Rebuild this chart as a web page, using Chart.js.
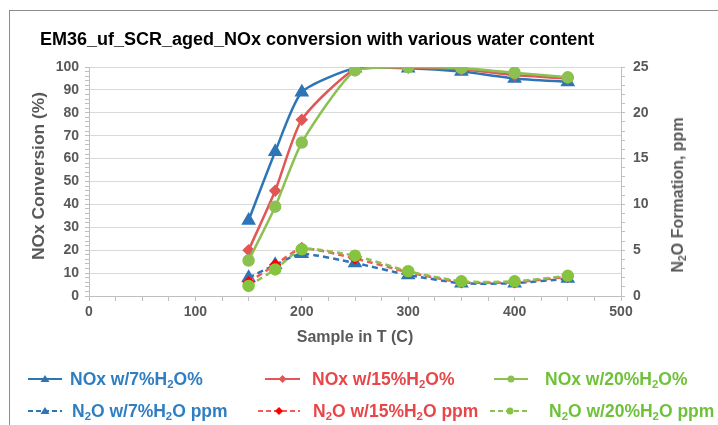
<!DOCTYPE html>
<html>
<head>
<meta charset="utf-8">
<script src="https://cdn.jsdelivr.net/npm/chart.js@4.4.1/dist/chart.umd.min.js"></script>
<style>
  body { margin: 0; background: #fff; font-family: "Liberation Sans", Arial, sans-serif; }
  #wrap { position: relative; width: 718px; height: 425px; overflow: hidden; }
  #frame { position: absolute; left: 9px; top: 10px; width: 800px; height: 500px; border: 1.5px solid #8c8c8c; }
  #chart { position: absolute; left: 0; top: 0; }
  .txt { position: absolute; font-weight: bold; white-space: nowrap; }
  #title { left: 40px; top: 29px; font-size: 18px; color: #000; }
  #ytitle { left: 38px; top: 176px; font-size: 17.4px; color: #595959; transform: translate(-50%, -50%) rotate(-90deg); }
  #ytitle2 { left: 678px; top: 195px; font-size: 16px; color: #595959; transform: translate(-50%, -50%) rotate(-90deg); }
  .legsym { position: absolute; }
  .legtxt { position: absolute; font-weight: bold; font-size: 17.5px; white-space: nowrap; line-height: 20px; }
  sub { font-size: 0.65em; vertical-align: -0.25em; line-height: 0; }
</style>
</head>
<body>
<div id="wrap">
  <div id="frame"></div>
  <canvas id="chart" width="718" height="425"></canvas>
  <div class="txt" id="title">EM36_uf_SCR_aged_NOx conversion with various water content</div>
  <div class="txt" id="ytitle">NOx Conversion (%)</div>
  <div class="txt" id="ytitle2">N<sub>2</sub>O Formation, ppm</div>
  <div id="legend"></div>
</div>
<script>
let temps = [150, 175, 200, 250, 300, 350, 400, 450]

let noxConv7 = [33, 63, 89, 99.5, 99.5, 98, 95, 93.5]
let noxConv15 = [20, 46, 77, 99, 99.7, 99, 96.5, 95]
let noxConv20 = [15.5, 39, 67, 98.5, 100, 99.5, 97.5, 95.5]

let n2o7 = [2.0, 3.4, 4.6, 3.6, 2.3, 1.4, 1.4, 1.9]
let n2o15 = [1.5, 3.4, 5.2, 4.1, 2.6, 1.5, 1.5, 2.1]
let n2o20 = [1.1, 2.9, 5.1, 4.4, 2.7, 1.6, 1.6, 2.2]

let xTicks = [0, 100, 200, 300, 400, 500]
let leftTicks = [0, 10, 20, 30, 40, 50, 60, 70, 80, 90, 100]
let rightTicks = [0, 5, 10, 15, 20, 25]

let blue = '#2e75b6'
let red = '#e15656'
let green = '#8cc152'

function pts(vals) {
    return temps.map(function(t, i) { return { x: t, y: vals[i] } })
}

let series = [
    { label: 'NOx w/7%H<sub>2</sub>O%', data: noxConv7, axis: 'y', color: blue, mark: blue, style: 'triangle', r: 6, dash: [], text: '#2f7ec3' },
    { label: 'NOx w/15%H<sub>2</sub>O%', data: noxConv15, axis: 'y', color: red, mark: red, style: 'rectRot', r: 4.5, dash: [], text: '#e8474a' },
    { label: 'NOx w/20%H<sub>2</sub>O%', data: noxConv20, axis: 'y', color: green, mark: green, style: 'circle', r: 5, dash: [], text: '#6fc13a' },
    { label: 'N<sub>2</sub>O w/7%H<sub>2</sub>O ppm', data: n2o7, axis: 'y2', color: blue, mark: blue, style: 'triangle', r: 6, dash: [6, 4], text: '#2f7ec3' },
    { label: 'N<sub>2</sub>O w/15%H<sub>2</sub>O ppm', data: n2o15, axis: 'y2', color: '#f25a5a', mark: '#ff0000', style: 'rectRot', r: 4.5, dash: [6, 4], text: '#e8474a' },
    { label: 'N<sub>2</sub>O w/20%H<sub>2</sub>O ppm', data: n2o20, axis: 'y2', color: green, mark: '#86c440', style: 'circle', r: 5, dash: [6, 4], text: '#6fc13a' }
]

let datasets = series.map(function(s) {
    return {
        label: s.label,
        data: pts(s.data),
        yAxisID: s.axis,
        borderColor: s.color,
        backgroundColor: s.mark,
        pointBorderColor: s.mark,
        pointStyle: s.style,
        pointRadius: s.r,
        borderWidth: 2.5,
        borderDash: s.dash,
        tension: 0.2
    }
})
// draw the N2O lines first so the conversion lines sit on top
datasets.reverse()

let tickFont = { family: 'Liberation Sans', size: 14, weight: 'bold' }
let axisGrey = '#bfbfbf'

new Chart(document.getElementById('chart'), {
    type: 'line',
    data: { datasets: datasets },
    options: {
        responsive: false,
        animation: false,
        layout: { padding: { top: 67, left: 0, right: 0, bottom: 0 } },
        plugins: { legend: { display: false }, tooltip: { enabled: false } },
        scales: {
            x: {
                type: 'linear', min: 0, max: 500,
                afterBuildTicks: function(scale) {
                    let t = []
                    for (let v = 0; v <= 500; v += 25) t.push({ value: v })
                    scale.ticks = t
                },
                afterFit: function(scale) { scale.height = 425 - 296 },
                ticks: {
                    autoSkip: false, maxRotation: 0, padding: 3, color: '#595959', font: tickFont,
                    callback: function(v) { return xTicks.includes(v) ? v : '' }
                },
                grid: { drawOnChartArea: false, tickLength: 5, tickColor: axisGrey },
                border: { color: axisGrey },
                title: {
                    display: true, text: 'Sample in T (C)', color: '#595959',
                    font: { family: 'Liberation Sans', size: 16, weight: 'bold' },
                    padding: { top: 0, bottom: 78 }
                }
            },
            y: {
                position: 'left', min: 0, max: 100,
                afterBuildTicks: function(scale) {
                    let t = []
                    for (let v = 0; v <= 100; v += 2) t.push({ value: v })
                    scale.ticks = t
                },
                afterFit: function(scale) { scale.width = 89 },
                ticks: {
                    autoSkip: false, padding: 6, color: '#595959', font: tickFont,
                    callback: function(v) { return leftTicks.includes(v) ? v : '' }
                },
                grid: {
                    tickLength: 4, tickColor: axisGrey,
                    color: function(ctx) { return ctx.tick && leftTicks.includes(ctx.tick.value) ? '#d9d9d9' : 'rgba(0,0,0,0)' }
                },
                border: { color: axisGrey }
            },
            y2: {
                position: 'right', min: 0, max: 25,
                afterBuildTicks: function(scale) {
                    let t = []
                    for (let v = 0; v <= 25; v += 1) t.push({ value: v })
                    scale.ticks = t
                },
                afterFit: function(scale) { scale.width = 718 - 621 },
                ticks: {
                    autoSkip: false, padding: 8, color: '#595959', font: tickFont,
                    callback: function(v) { return rightTicks.includes(v) ? v : '' }
                },
                grid: { drawOnChartArea: false, tickLength: 4, tickColor: axisGrey },
                border: { color: axisGrey }
            }
        }
    }
})

// html legend, two rows of three
let legendLine = [[28, 62], [265, 300], [494, 528], [28, 62], [258, 300], [490, 530]]
let legendText = [70, 312, 545, 72, 313, 549]
let legendRow = [379, 379, 379, 411, 411, 411]
let legend = document.getElementById('legend')
series.forEach(function(s, i) {
    let w = legendLine[i][1] - legendLine[i][0]
    let c = w / 2
    let sym = document.createElement('div')
    sym.className = 'legsym'
    sym.style.left = legendLine[i][0] + 'px'
    sym.style.top = (legendRow[i] - 10) + 'px'
    let dash = s.dash.length ? 'stroke-dasharray="5,3"' : ''
    let m
    if (s.style === 'triangle') m = '<polygon points="' + c + ',6 ' + (c + 4.5) + ',13 ' + (c - 4.5) + ',13" fill="' + s.mark + '"/>'
    else if (s.style === 'rectRot') m = '<polygon points="' + c + ',6 ' + (c + 4) + ',10 ' + c + ',14 ' + (c - 4) + ',10" fill="' + s.mark + '"/>'
    else m = '<circle cx="' + c + '" cy="10" r="3.5" fill="' + s.mark + '"/>'
    sym.innerHTML = '<svg width="' + w + '" height="20"><line x1="0" y1="10" x2="' + w + '" y2="10" stroke="' + s.color + '" stroke-width="2" ' + dash + '/>' + m + '</svg>'
    legend.appendChild(sym)

    let txt = document.createElement('div')
    txt.className = 'legtxt'
    txt.style.left = legendText[i] + 'px'
    txt.style.top = (legendRow[i] - 10) + 'px'
    txt.style.color = s.text
    txt.innerHTML = s.label
    legend.appendChild(txt)
})
</script>
</body>
</html>
